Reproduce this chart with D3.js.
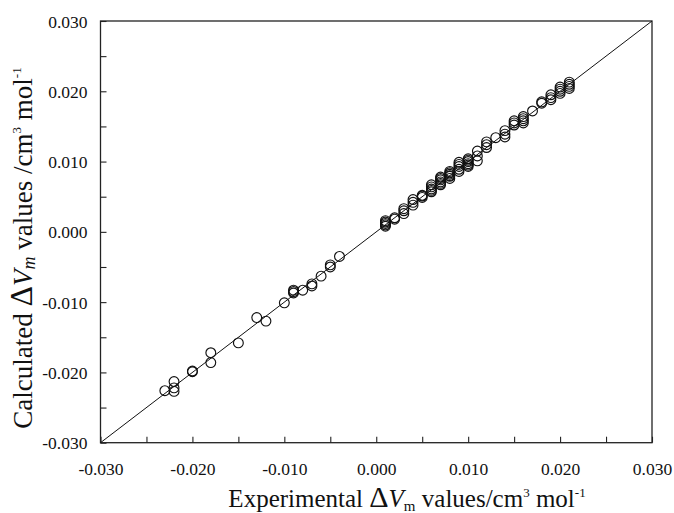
<!DOCTYPE html>
<html>
<head>
<meta charset="utf-8">
<script src="https://cdn.jsdelivr.net/npm/d3@7"></script>
<style>
  html, body { margin: 0; padding: 0; background: #fff; }
  svg { display: block; }
  text { font-family: "Liberation Serif", "Times New Roman", serif; fill: #111; }
</style>
</head>
<body>
<svg id="chart" width="674" height="513"></svg>
<script>
// ---- data ----
const expX = [
  -0.023, -0.022, -0.022, -0.022, -0.020, -0.020, -0.018, -0.018, -0.015, -0.013,
  -0.012, -0.010, -0.009, -0.009, -0.009, -0.008, -0.007, -0.007, -0.006, -0.005,
  -0.005, -0.004,
  0.001, 0.001, 0.001, 0.001, 0.001, 0.002, 0.002, 0.003, 0.003, 0.003,
  0.004, 0.004, 0.004, 0.005, 0.005, 0.005,
  0.006, 0.006, 0.006, 0.006, 0.006, 0.007, 0.007, 0.007, 0.007, 0.007, 0.007,
  0.008, 0.008, 0.008, 0.008, 0.008, 0.008, 0.009, 0.009, 0.009, 0.009, 0.009,
  0.010, 0.010, 0.010, 0.010, 0.010, 0.010, 0.011, 0.011, 0.011,
  0.012, 0.012, 0.012, 0.013, 0.014, 0.014, 0.014,
  0.015, 0.015, 0.015, 0.016, 0.016, 0.016, 0.016, 0.017,
  0.018, 0.018, 0.019, 0.019, 0.019,
  0.020, 0.020, 0.020, 0.020, 0.021, 0.021, 0.021, 0.021
];
const calcY = [
  -0.0226, -0.0213, -0.0222, -0.0227, -0.0199, -0.0198, -0.0172, -0.0186, -0.0158, -0.0122,
  -0.0127, -0.0101, -0.0083, -0.0085, -0.0087, -0.0083, -0.0074, -0.0077, -0.0063, -0.0047,
  -0.0050, -0.0035,
  0.0008, 0.0010, 0.0012, 0.0014, 0.0016, 0.0018, 0.0020, 0.0026, 0.0030, 0.0033,
  0.0038, 0.0042, 0.0046, 0.0049, 0.0051, 0.0052,
  0.0057, 0.0059, 0.0061, 0.0064, 0.0067, 0.0067, 0.0069, 0.0071, 0.0074, 0.0076, 0.0078,
  0.0076, 0.0079, 0.0080, 0.0082, 0.0084, 0.0086, 0.0086, 0.0089, 0.0093, 0.0096, 0.0099,
  0.0093, 0.0095, 0.0097, 0.0100, 0.0102, 0.0104, 0.0101, 0.0108, 0.0115,
  0.0120, 0.0124, 0.0128, 0.0134, 0.0135, 0.0139, 0.0144,
  0.0152, 0.0155, 0.0158, 0.0155, 0.0158, 0.0161, 0.0164, 0.0172,
  0.0183, 0.0185, 0.0188, 0.0191, 0.0195,
  0.0197, 0.0200, 0.0203, 0.0206, 0.0204, 0.0207, 0.0210, 0.0213
];
const tickValues = [-0.030, -0.025, -0.020, -0.015, -0.010, -0.005, 0.000, 0.005, 0.010, 0.015, 0.020, 0.025, 0.030];
const labelValues = [-0.030, -0.020, -0.010, 0.000, 0.010, 0.020, 0.030];
const tickLabels = ["-0.030", "-0.020", "-0.010", "0.000", "0.010", "0.020", "0.030"];
const lineEnds = [-0.030, 0.030];

// ---- layout ----
const svg = d3.select("#chart");
const pL = 100.5, pR = 652, pT = 21, pB = 442.7;
const FONT = "'Liberation Serif', 'Times New Roman', serif";

const x = d3.scaleLinear().domain([-0.03, 0.03]).range([pL, pR]);
const y = d3.scaleLinear().domain([-0.03, 0.03]).range([pB, pT]);

const fmt = v => {
  const i = labelValues.findIndex(l => Math.abs(l - v) < 1e-9);
  return i >= 0 ? tickLabels[i] : "";
};

// bottom axis (inward ticks)
const gx = svg.append("g").attr("transform", `translate(0,${pB})`)
  .call(d3.axisBottom(x).tickValues(tickValues).tickSizeInner(-6).tickSizeOuter(0).tickFormat(fmt))
  .attr("font-family", FONT).attr("font-size", 17.5);
gx.select(".domain").remove();
gx.selectAll(".tick line").attr("stroke", "#222").attr("stroke-width", 1.1);
gx.selectAll(".tick text").attr("y", 32).attr("dy", 0)
  .style("font-size", "17.5px").style("font-family", FONT).attr("fill", "#111");

// left axis (inward ticks)
const gy = svg.append("g").attr("transform", `translate(${pL},0)`)
  .call(d3.axisLeft(y).tickValues(tickValues).tickSizeInner(-6).tickSizeOuter(0).tickFormat(fmt))
  .attr("font-family", FONT).attr("font-size", 17.5);
gy.select(".domain").remove();
gy.selectAll(".tick line").attr("stroke", "#222").attr("stroke-width", 1.1);
gy.selectAll(".tick text").attr("x", -13).attr("dy", "0.35em")
  .style("font-size", "17.5px").style("font-family", FONT).attr("fill", "#111");

// frame
svg.append("rect").attr("x", pL).attr("y", pT)
  .attr("width", pR - pL).attr("height", pB - pT)
  .attr("fill", "none").attr("stroke", "#222").attr("stroke-width", 1.3);

// diagonal line y = x
svg.append("line")
  .attr("x1", x(lineEnds[0])).attr("y1", y(lineEnds[0]))
  .attr("x2", x(lineEnds[1])).attr("y2", y(lineEnds[1]))
  .attr("stroke", "#111").attr("stroke-width", 1);

// points
svg.append("g").selectAll("circle")
  .data(expX.map((v, i) => [v, calcY[i]]))
  .join("circle")
  .attr("cx", d => x(d[0])).attr("cy", d => y(d[1]))
  .attr("r", 4.9)
  .attr("fill", "none").attr("stroke", "#111").attr("stroke-width", 1.15);

// x axis title
const xt = svg.append("text")
  .attr("x", 407).attr("y", 507)
  .attr("text-anchor", "middle").style("font-size", "25px");
xt.append("tspan").text("Experimental ");
xt.append("tspan").text("Δ").style("font-size", "30px");
xt.append("tspan").text("V").style("font-style", "italic");
xt.append("tspan").text("m").style("font-size", "15px").attr("dy", 4);
xt.append("tspan").text(" values/cm").attr("dy", -4);
xt.append("tspan").text("3").style("font-size", "13px").attr("dy", -10);
xt.append("tspan").text("  mol").attr("dy", 10);
xt.append("tspan").text("-1").style("font-size", "13px").attr("dy", -10);

// y axis title
const yt = svg.append("text")
  .attr("transform", `translate(32,248) rotate(-90)`)
  .attr("text-anchor", "middle").style("font-size", "27px");
yt.append("tspan").text("Calculated ");
yt.append("tspan").text("Δ").style("font-size", "32px");
yt.append("tspan").text("V").style("font-style", "italic");
yt.append("tspan").text("m").style("font-style", "italic").style("font-size", "18px").attr("dy", 3);
yt.append("tspan").text(" values /cm").attr("dy", -3);
yt.append("tspan").text("3").style("font-size", "13px").attr("dy", -11);
yt.append("tspan").text(" mol").attr("dy", 11);
yt.append("tspan").text("-1").style("font-size", "13px").attr("dy", -11);
</script>
</body>
</html>
